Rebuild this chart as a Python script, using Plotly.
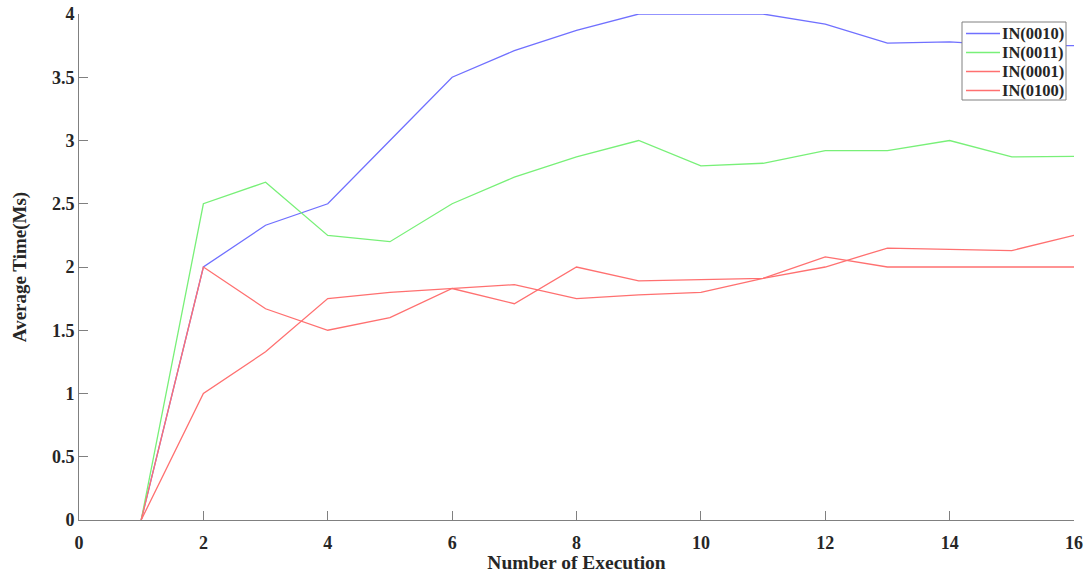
import plotly.graph_objects as go

executions = list(range(1, 17))

in_0010 = [0, 2.0, 2.33, 2.5, 3.0, 3.5, 3.71, 3.87, 4.0, 4.0, 4.0, 3.92, 3.77, 3.78, 3.75, 3.75]
in_0011 = [0, 2.5, 2.67, 2.25, 2.2, 2.5, 2.71, 2.87, 3.0, 2.8, 2.82, 2.92, 2.92, 3.0, 2.87, 2.875]
in_0001 = [0, 2.0, 1.67, 1.5, 1.6, 1.83, 1.71, 2.0, 1.89, 1.9, 1.91, 2.0, 2.15, 2.14, 2.13, 2.25]
in_0100 = [0, 1.0, 1.33, 1.75, 1.8, 1.83, 1.86, 1.75, 1.78, 1.8, 1.91, 2.08, 2.0, 2.0, 2.0, 2.0]

series_names = ["IN(0010)", "IN(0011)", "IN(0001)", "IN(0100)"]
series_values = [in_0010, in_0011, in_0001, in_0100]
series_colors = ["rgb(112,112,255)", "rgb(120,240,120)", "rgb(255,112,112)", "rgb(255,112,112)"]

x_ticks = [0, 2, 4, 6, 8, 10, 12, 14, 16]
y_ticks = [0, 0.5, 1, 1.5, 2, 2.5, 3, 3.5, 4]

FONT = "Liberation Serif, Times New Roman, serif"
TEXT = "#262626"
AXIS = "#808080"

W, H = 1087, 573
ML, MR, MT, MB = 79, 13, 14, 53
PW, PH = W - ML - MR, H - MT - MB


def px_x(px):
    """Pixel column -> paper x coordinate."""
    return (px - ML) / PW


def px_y(py):
    """Pixel row (from top) -> paper y coordinate."""
    return (H - MB - py) / PH


fig = go.Figure()
for name, vals, color in zip(series_names, series_values, series_colors):
    fig.add_trace(go.Scatter(
        x=executions, y=vals, name=name, mode="lines",
        line=dict(color=color, width=1.3), showlegend=False,
    ))

axis_common = dict(
    showgrid=False, zeroline=False, showline=True, linecolor=AXIS, linewidth=1,
    ticks="inside", ticklen=9, tickcolor=AXIS, tickwidth=1,
    tickfont=dict(family=FONT, size=18, color=TEXT, weight="bold"),
    mirror=False, automargin=False,
)

# Boxed legend in the upper-right corner (MATLAB-style)
box_l, box_r, box_t, box_b = 962, 1066, 22, 100
row_y = [33.5, 52.5, 71.5, 90.5]
shapes = [dict(
    type="rect", xref="paper", yref="paper",
    x0=px_x(box_l), x1=px_x(box_r), y0=px_y(box_b), y1=px_y(box_t),
    line=dict(color=AXIS, width=1), fillcolor="white", layer="above",
)]
annotations = []
for name, color, ry in zip(series_names, series_colors, row_y):
    shapes.append(dict(
        type="line", xref="paper", yref="paper",
        x0=px_x(966), x1=px_x(1000), y0=px_y(ry), y1=px_y(ry),
        line=dict(color=color, width=1.3), layer="above",
    ))
    annotations.append(dict(
        text=name, xref="paper", yref="paper", x=px_x(1000), y=px_y(ry),
        xanchor="left", yanchor="middle", showarrow=False,
        font=dict(family=FONT, size=16.5, color=TEXT, weight="bold"),
    ))

fig.update_layout(
    width=W, height=H,
    margin=dict(l=ML, r=MR, t=MT, b=MB),
    paper_bgcolor="white", plot_bgcolor="white",
    font=dict(family=FONT, color=TEXT),
    xaxis=dict(
        range=[0, 16], tickvals=x_ticks, ticktext=[str(v) for v in x_ticks],
        ticklabelstandoff=6,
        title=dict(text="Number of Execution", standoff=4,
                   font=dict(family=FONT, size=19.5, color=TEXT, weight="bold")),
        **axis_common,
    ),
    yaxis=dict(
        range=[0, 4], tickvals=y_ticks, ticktext=[f"{v:g}" for v in y_ticks],
        title=dict(text="Average Time(Ms)", standoff=20,
                   font=dict(family=FONT, size=19, color=TEXT, weight="bold")),
        **axis_common,
    ),
    shapes=shapes,
    annotations=annotations,
    showlegend=False,
)

fig.write_html("out.html")
